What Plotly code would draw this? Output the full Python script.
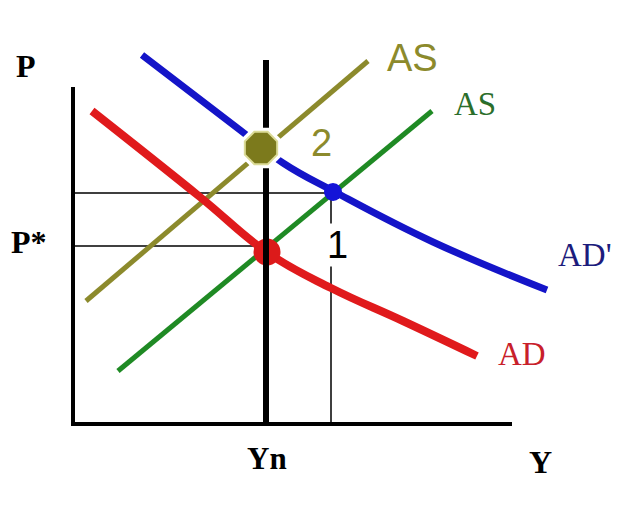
import plotly.graph_objects as go

# Output (Y) and price level (P) values, origin at the axes corner
AD_Y = [19, 127, 195, 258, 330, 404]
AD_P = [313, 227, 171, 136, 103, 68]

ADP_Y = [69, 167, 210, 262, 360, 474]
ADP_P = [369, 294, 261, 232, 182, 134]

AS_Y = [45, 359]
AS_P = [53, 313]

AS2_Y = [13, 295]
AS2_P = [123, 363]

YN = 193
Y_TOP = 364
Y1 = 258
P_STAR = 178
P1 = 231

E0 = (194, 172)
E1 = (260, 232)
E2 = (188, 276)

AXIS_Y_MAX = 439
AXIS_P_MAX = 337

fig = go.Figure()

def line(x, y, color, width, shape="linear"):
    fig.add_trace(go.Scatter(x=x, y=y, mode="lines", hoverinfo="skip",
                             line=dict(color=color, width=width, shape=shape, smoothing=1.2)))

# axes
line([0, 0, AXIS_Y_MAX], [AXIS_P_MAX, 0, 0], "black", 4)
# guide lines
line([0, Y1, Y1], [P1, P1, 0], "black", 1.5)
line([0, YN], [P_STAR, P_STAR], "black", 1.5)

# curves
line(AS2_Y, AS2_P, "#8c8a2c", 5)
line(AS_Y, AS_P, "#1f8a24", 5)
line(AD_Y, AD_P, "#e01a1c", 8, "spline")
line(ADP_Y, ADP_P, "#1414c8", 7, "spline")

# E0 dot
fig.add_trace(go.Scatter(x=[E0[0]], y=[E0[1]], mode="markers", hoverinfo="skip",
                         marker=dict(size=27, color="#dc1a1a", line=dict(width=0))))
# Yn vertical
line([YN, YN], [0, Y_TOP], "black", 6)
# E2 octagon with white halo
fig.add_trace(go.Scatter(x=[E2[0]], y=[E2[1]], mode="markers", hoverinfo="skip",
                         marker=dict(symbol="octagon", size=44, color="white", line=dict(width=0))))
fig.add_trace(go.Scatter(x=[E2[0]], y=[E2[1]], mode="markers", hoverinfo="skip",
                         marker=dict(symbol="octagon", size=35, color="#7c7a1c",
                                     line=dict(width=2, color="#dcdc98"))))
# E1 dot
fig.add_trace(go.Scatter(x=[E1[0]], y=[E1[1]], mode="markers", hoverinfo="skip",
                         marker=dict(size=18, color="#1414d8", line=dict(width=0))))

serif = "Liberation Serif"
sans = "Liberation Sans"
labels = [
    ("P", -47, 358, serif, 32, "black", True, None),
    ("P*", -44, 182, serif, 32, "black", True, None),
    ("Yn", 194, -34, serif, 31, "black", True, None),
    ("Y", 467, -38, serif, 32, "black", True, None),
    ("AS", 339, 366, sans, 38, "#8c8a2c", False, None),
    ("2", 248, 281, sans, 38, "#8c8a2c", False, None),
    ("1", 264, 179, sans, 38, "black", False, "white"),
    ("AS", 402, 320, serif, 33, "#2b6e2b", False, None),
    ("AD'", 512, 169, serif, 33, "#1c1c7c", False, None),
    ("AD", 449, 70, serif, 33, "#c8202a", False, None),
]
for text, x, y, fam, size, color, bold, bg in labels:
    fig.add_annotation(x=x, y=y, xref="x", yref="y", showarrow=False,
                       text=f"<b>{text}</b>" if bold else text,
                       font=dict(family=fam, size=size, color=color),
                       bgcolor=bg, borderpad=0)

# page body adds an 8px offset, compensated in the ranges
fig.update_layout(
    width=624, height=506,
    margin=dict(l=0, r=0, t=0, b=0),
    paper_bgcolor="white", plot_bgcolor="white",
    showlegend=False,
    xaxis=dict(range=[-65, 559], visible=False, fixedrange=True),
    yaxis=dict(range=[-90, 416], visible=False, fixedrange=True),
)

fig.write_html("out.html")
